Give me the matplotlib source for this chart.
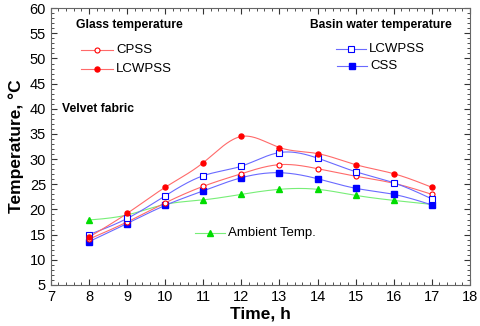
import numpy as np
import matplotlib
matplotlib.use("Agg")
import matplotlib.pyplot as plt
from matplotlib.ticker import MultipleLocator

plt.rcParams['font.family'] = ['Liberation Sans', 'DejaVu Sans']

hours = [8, 9, 10, 11, 12, 13, 14, 15, 16, 17]
glass_cpss = [14.1, 17.5, 21.3, 24.6, 27.1, 28.9, 28.1, 26.6, 25.2, 23.0]
glass_lcwpss = [14.5, 19.2, 24.4, 29.3, 34.5, 32.3, 31.1, 28.9, 27.1, 24.4]
basin_lcwpss = [15.0, 18.2, 22.7, 26.7, 28.6, 31.3, 30.2, 27.5, 25.3, 22.1]
basin_css = [13.6, 17.2, 20.8, 23.7, 26.3, 27.3, 26.1, 24.2, 23.0, 20.9]
ambient = [17.9, 18.9, 21.0, 21.9, 23.0, 24.0, 24.0, 22.8, 21.8, 21.0]


def natural_spline(x, y, n=300):
    x = np.asarray(x, float)
    y = np.asarray(y, float)
    k = len(x)
    h = np.diff(x)
    A = np.zeros((k, k))
    b = np.zeros(k)
    A[0, 0] = 1
    A[-1, -1] = 1
    for i in range(1, k - 1):
        A[i, i - 1] = h[i - 1]
        A[i, i] = 2 * (h[i - 1] + h[i])
        A[i, i + 1] = h[i]
        b[i] = 3 * ((y[i + 1] - y[i]) / h[i] - (y[i] - y[i - 1]) / h[i - 1])
    c = np.linalg.solve(A, b)
    xs = np.linspace(x[0], x[-1], n)
    ys = np.empty_like(xs)
    for j, xv in enumerate(xs):
        i = min(np.searchsorted(x, xv, side='right') - 1, k - 2)
        dx = xv - x[i]
        bi = (y[i + 1] - y[i]) / h[i] - h[i] * (2 * c[i] + c[i + 1]) / 3
        di = (c[i + 1] - c[i]) / (3 * h[i])
        ys[j] = y[i] + bi * dx + c[i] * dx ** 2 + di * dx ** 3
    return xs, ys


fig = plt.figure(figsize=(4.8, 3.26), dpi=100)
ax = fig.add_axes([0.106, 0.126, 0.873, 0.849])

RED_L, RED_M = '#ff6a6a', '#ff0000'
BLU_L, BLU_M = '#6a6aff', '#0000ff'
GRN_L, GRN_M = '#77ee77', '#00dd00'

series = [
    (ambient, GRN_L, dict(marker='^', color=GRN_M, mfc=GRN_M, ms=4)),
    (basin_css, BLU_L, dict(marker='s', color=BLU_M, mfc=BLU_M, ms=4.3)),
    (glass_cpss, RED_L, dict(marker='o', color=RED_M, mfc='white', ms=3.6, mew=0.8)),
    (basin_lcwpss, BLU_L, dict(marker='s', color=BLU_M, mfc='white', ms=4.8, mew=0.8)),
    (glass_lcwpss, RED_L, dict(marker='o', color=RED_M, mfc=RED_M, ms=3.6)),
]
for ys, lc, mk in series:
    sx, sy = natural_spline(hours, ys)
    ax.plot(sx, sy, color=lc, lw=0.8, zorder=2)
    ax.plot(hours, ys, ls='none', zorder=3, **mk)

ax.set_xlim(7, 18)
ax.set_ylim(5, 60)
ax.xaxis.set_major_locator(MultipleLocator(1))
ax.xaxis.set_minor_locator(MultipleLocator(0.2))
ax.yaxis.set_major_locator(MultipleLocator(5))
ax.yaxis.set_minor_locator(MultipleLocator(1))
ax.tick_params(which='both', direction='in', top=True, right=True, labelsize=10.5, colors='#333333', labelcolor='black')
ax.tick_params(which='major', length=4, width=0.8)
ax.tick_params(which='minor', length=2, width=0.6)
for s in ax.spines.values():
    s.set_color('#666666')
    s.set_linewidth(0.8)

ax.set_xlabel('Time, h', fontsize=12.5, fontweight='bold', labelpad=2)
ax.set_ylabel('Temperature, °C', fontsize=12.5, fontweight='bold', labelpad=4)


def ax_pt(px, py):
    return (px - 51) / 419, (285 - py) / 277


def legend_item(x0, x1, y, text, lc, mk):
    a0, b = ax_pt(x0, y)
    a1, _ = ax_pt(x1, y)
    ax.plot([a0, a1], [b, b], color=lc, lw=0.8, transform=ax.transAxes)
    ax.plot([(a0 + a1) / 2], [b], ls='none', transform=ax.transAxes, **mk)
    ax.text(a1 + 0.008, b, text, transform=ax.transAxes, fontsize=9.5, va='center', ha='left')


tx, ty = ax_pt(76, 25)
ax.text(tx, ty, 'Glass temperature', transform=ax.transAxes, fontsize=8.7, fontweight='bold', va='center')
tx, ty = ax_pt(310, 25)
ax.text(tx, ty, 'Basin water temperature', transform=ax.transAxes, fontsize=8.7, fontweight='bold', va='center')
tx, ty = ax_pt(62, 109)
ax.text(tx, ty, 'Velvet fabric', transform=ax.transAxes, fontsize=8.7, fontweight='bold', va='center')

legend_item(81, 113, 50, 'CPSS', RED_L, series[2][2])
legend_item(81, 113, 69, 'LCWPSS', RED_L, series[4][2])
legend_item(336, 366, 49, 'LCWPSS', BLU_L, series[3][2])
legend_item(337, 367, 66, 'CSS', BLU_L, series[1][2])
legend_item(195, 225, 233, 'Ambient Temp.', GRN_L, series[0][2])

fig.savefig('out.png', dpi=100)
